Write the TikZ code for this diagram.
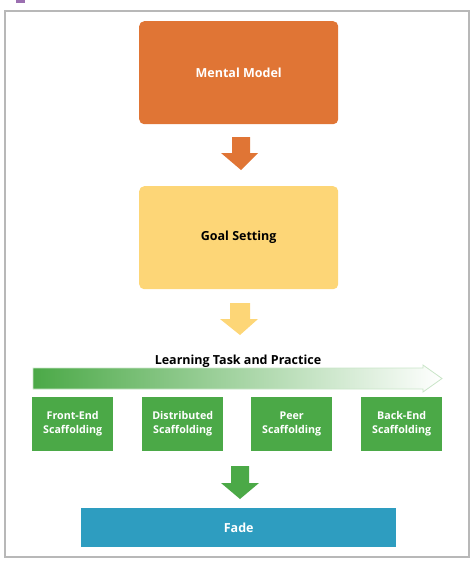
\documentclass[tikz,border=0pt]{standalone}
\usepackage{fontspec}
\setmainfont{Open Sans}
\begin{document}
\begin{tikzpicture}[x=1pt,y=-1pt,
  bigf/.style={font=\bfseries\fontsize{12.5}{15}\selectfont},
  bigbox/.style={rounded corners=5pt,minimum width=199pt,minimum height=103pt,anchor=north west,inner sep=0pt,bigf},
  scaf/.style={fill=scgreen,minimum width=81pt,minimum height=54pt,anchor=north west,inner sep=0pt,text=white,font=\bfseries\fontsize{10.7}{14}\selectfont,align=center}]
\definecolor{mmorange}{HTML}{E07535}
\definecolor{gsyellow}{HTML}{FDD677}
\definecolor{scgreen}{HTML}{4BA947}
\definecolor{fadeblue}{HTML}{2E9DC0}
\definecolor{framegray}{HTML}{B8B8B8}
\definecolor{purp}{HTML}{9B6FB0}
\useasboundingbox (0,0) rectangle (474,566);
% cropped fragment
\fill[purp] (16,0) rectangle (25,3);
% frame
\draw[framegray,line width=2pt] (5,11) rectangle (469,557);
% Mental model
\node[bigbox,fill=mmorange,text=white] (mm) at (139,21) {Mental Model};
% arrow 1
\coordinate (a1) at (241,137);
\fill[mmorange] (a1) ++(-9,0) -- ++(18,0) -- ++(0,16) -- ++(8,0) -- (241,170) -- (221,153) -- ++(11,0) -- cycle;
% Goal setting
\node[bigbox,fill=gsyellow,text=black] (gs) at (139,186) {Goal Setting};
% arrow 2
\coordinate (a2) at (240,303);
\fill[gsyellow] (a2) ++(-10,0) -- ++(20,0) -- ++(0,16) -- ++(8,0) -- (240,335) -- (220,319) -- ++(10,0) -- cycle;
% Learning task
\node[bigf] (lt) at (238,361) {Learning Task and Practice};
% gradient arrow
\path[left color=scgreen,right color=white,middle color=scgreen!50,draw=scgreen!30,line width=0.8pt]
  (33,368) -- (423,368) -- (423,365) -- (442,378.5) -- (423,392) -- (423,389) -- (33,389) -- cycle;
\coordinate (ga) at (442,378.5);
% scaffolding boxes
\node[scaf] (s1) at (32,397) {Front-End\\Scaffolding};
\node[scaf] (s2) at (142,397) {Distributed\\Scaffolding};
\node[scaf] (s3) at (251,397) {Peer\\Scaffolding};
\node[scaf] (s4) at (361,397) {Back-End\\Scaffolding};
% arrow 3
\coordinate (a3) at (240,466);
\fill[scgreen] (a3) ++(-9,0) -- ++(18,0) -- ++(0,17) -- ++(10,0) -- (240,499) -- (221,483) -- ++(10,0) -- cycle;
% Fade
\node[fill=fadeblue,minimum width=315pt,minimum height=39pt,anchor=north west,inner sep=0pt,text=white,bigf] (fd) at (81,508) {Fade};
\end{tikzpicture}
\end{document}
